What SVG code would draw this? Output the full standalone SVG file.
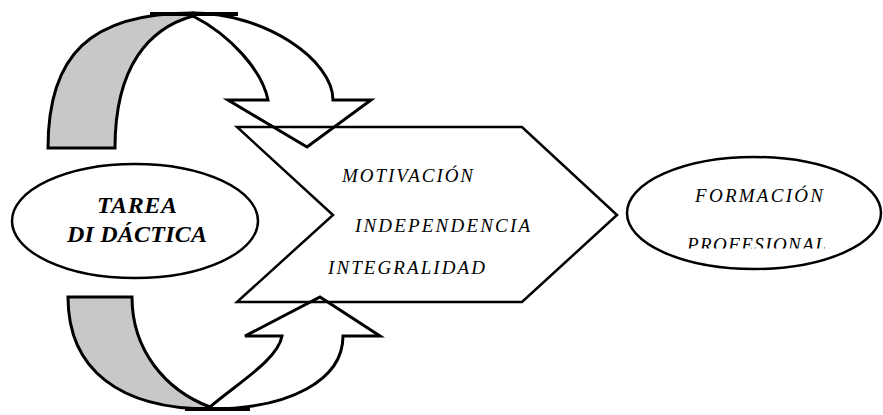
<svg xmlns="http://www.w3.org/2000/svg" width="883" height="415" viewBox="0 0 883 415">
<style>
.shape{stroke:#000;stroke-width:3;stroke-linejoin:miter}
.gray{fill:#c8c8c8}
.white{fill:#fff}
.ell{fill:#fff;stroke:#000;stroke-width:2.5}
.pent{fill:none;stroke:#000;stroke-width:2.5}
text{font-family:'Liberation Serif','DejaVu Serif',serif;font-style:italic;fill:#000}
.big{font-size:24px;font-weight:bold}
.small{font-size:19px}
</style>
<defs>
<clipPath id="clipProf"><rect x="600" y="200" width="283" height="48.5"/></clipPath>
</defs>
<rect width="883" height="415" fill="#fff"/>
<g id="connectors">
  <path class="shape gray" d="M48,148 C48,55 90,13 193,13 L193,16 C150,28 115,65 115,148 Z"/>
  <path class="shape white" d="M193,13 C265,13 333,60 333,100 L371,100 L307,147 L228,100 L268,100 C262,70 230,35 193,16 Z"/>
  <line x1="150" y1="14" x2="238" y2="14" stroke="#000" stroke-width="4"/>
  <path class="shape gray" d="M68,297 L132,297 C132,350 165,390 210,407 L210,409 C120,409 68,370 68,297 Z"/>
  <path class="shape white" d="M210,407 C235,385 278,360 282,336 L245,336 L320,297 L380,336 L343,336 C343,380 290,409 210,409 Z"/>
  <line x1="185" y1="409" x2="250" y2="409" stroke="#000" stroke-width="4"/>
</g>
<g id="tarea">
  <ellipse class="ell" cx="135" cy="221" rx="123" ry="57"/>
  <text class="big" x="137" y="213" text-anchor="middle" textLength="80" lengthAdjust="spacing">TAREA</text>
  <text class="big" x="137" y="242" text-anchor="middle" textLength="140" lengthAdjust="spacing">DI DÁCTICA</text>
</g>
<g id="cualidades">
  <polygon class="pent" points="237,127 522,127 617,215 522,302 237,302 333,215"/>
  <text class="small" x="342" y="182" textLength="131" lengthAdjust="spacing">MOTIVACIÓN</text>
  <text class="small" x="355" y="232" textLength="175" lengthAdjust="spacing">INDEPENDENCIA</text>
  <text class="small" x="328" y="274" textLength="157" lengthAdjust="spacing">INTEGRALIDAD</text>
</g>
<g id="formacion">
  <ellipse class="ell" cx="754" cy="213" rx="127" ry="56"/>
  <text class="small" x="695" y="202" textLength="128" lengthAdjust="spacing">FORMACIÓN</text>
  <text class="small" x="687" y="251" textLength="145" lengthAdjust="spacing" clip-path="url(#clipProf)">PROFESIONAL.</text>
</g>
</svg>
